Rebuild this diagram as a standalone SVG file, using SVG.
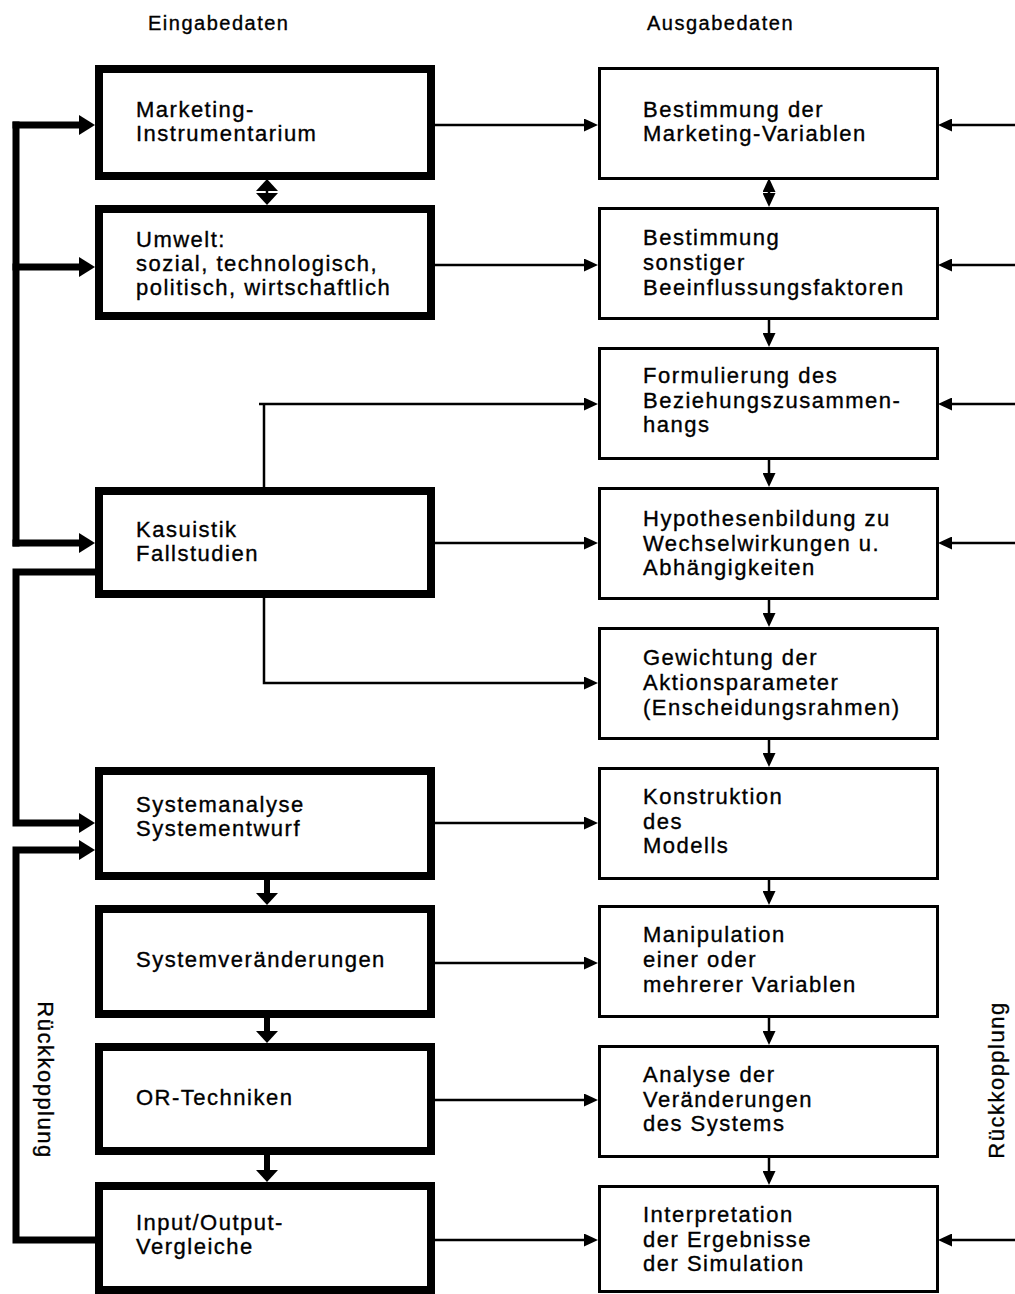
<svg xmlns="http://www.w3.org/2000/svg" width="1015" height="1294" viewBox="0 0 1015 1294">
<style>
  text { font-family: "Liberation Sans", Arial, sans-serif; font-size: 22px; letter-spacing: 1.5px; fill: #000; stroke: #000; stroke-width: 0.35px; }
  .head { font-size: 20px; letter-spacing: 1.5px; }
  .thick { fill: #fff; stroke: #000; stroke-width: 8; }
  .thin { fill: #fff; stroke: #000; stroke-width: 3; }
  .fb { fill: none; stroke: #000; stroke-width: 7; stroke-linejoin: miter; }
  .ln { fill: none; stroke: #000; stroke-width: 2.5; }
  .sh { fill: none; stroke: #000; stroke-width: 6; }
</style>
<defs>
  <marker id="s" viewBox="0 0 14 13" refX="8" refY="6.5" markerWidth="14" markerHeight="13" markerUnits="userSpaceOnUse" orient="auto-start-reverse">
    <path d="M0,0 L14,6.5 L0,13 z" fill="#000"/>
  </marker>
  <marker id="b" viewBox="0 0 16 20" refX="8" refY="10" markerWidth="16" markerHeight="20" markerUnits="userSpaceOnUse" orient="auto-start-reverse">
    <path d="M0,0 L16,10 L0,20 z" fill="#000"/>
  </marker>
  <marker id="d" viewBox="0 0 12 22" refX="5" refY="11" markerWidth="12" markerHeight="22" markerUnits="userSpaceOnUse" orient="auto-start-reverse">
    <path d="M0,0 L12,11 L0,22 z" fill="#000"/>
  </marker>
</defs>
<rect width="1015" height="1294" fill="#fff"/>

<text class="head" x="148" y="30">Eingabedaten</text>
<text class="head" x="647" y="30">Ausgabedaten</text>

<g id="connectors">
  <path class="fb" d="M16,121.5 V546.5"/>
  <path class="fb" d="M12.5,125 H87" marker-end="url(#b)"/>
  <path class="fb" d="M12.5,267 H87" marker-end="url(#b)"/>
  <path class="fb" d="M12.5,543 H87" marker-end="url(#b)"/>
  <path class="fb" d="M95,572 H16 V823 H87" marker-end="url(#b)"/>
  <path class="fb" d="M95,1240 H16 V850 H87" marker-end="url(#b)"/>
  <path class="ln" stroke-width="3" d="M267,186 V198" marker-start="url(#d)" marker-end="url(#d)"/>
  <path class="sh" d="M267,880 V898" marker-end="url(#d)"/>
  <path class="sh" d="M267,1018 V1036" marker-end="url(#d)"/>
  <path class="sh" d="M267,1155 V1175" marker-end="url(#d)"/>
  <path class="ln" d="M435,125 H592" marker-end="url(#s)"/>
  <path class="ln" d="M435,265 H592" marker-end="url(#s)"/>
  <path class="ln" d="M264,487 V404"/>
  <path class="ln" d="M259,404 H592" marker-end="url(#s)"/>
  <path class="ln" d="M435,543 H592" marker-end="url(#s)"/>
  <path class="ln" d="M264,598 V683 H592" marker-end="url(#s)"/>
  <path class="ln" d="M435,823 H592" marker-end="url(#s)"/>
  <path class="ln" d="M435,963 H592" marker-end="url(#s)"/>
  <path class="ln" d="M435,1100 H592" marker-end="url(#s)"/>
  <path class="ln" d="M435,1240 H592" marker-end="url(#s)"/>
  <path class="ln" d="M769,184 V201" marker-start="url(#s)" marker-end="url(#s)"/>
  <path class="ln" d="M769,318 V341" marker-end="url(#s)"/>
  <path class="ln" d="M769,458 V481" marker-end="url(#s)"/>
  <path class="ln" d="M769,598 V621" marker-end="url(#s)"/>
  <path class="ln" d="M769,738 V761" marker-end="url(#s)"/>
  <path class="ln" d="M769,878 V899" marker-end="url(#s)"/>
  <path class="ln" d="M769,1016 V1039" marker-end="url(#s)"/>
  <path class="ln" d="M769,1156 V1179" marker-end="url(#s)"/>
  <path class="ln" d="M1015,125 H944" marker-end="url(#s)"/>
  <path class="ln" d="M1015,265 H944" marker-end="url(#s)"/>
  <path class="ln" d="M1015,404 H944" marker-end="url(#s)"/>
  <path class="ln" d="M1015,543 H944" marker-end="url(#s)"/>
  <path class="ln" d="M1015,1240 H944" marker-end="url(#s)"/>
</g>

<text transform="translate(38,1080) rotate(90)" text-anchor="middle">Rückkopplung</text>
<text transform="translate(1004,1080) rotate(-90)" text-anchor="middle">Rückkopplung</text>

<g id="n-marketing">
  <rect class="thick" x="99" y="69" width="332" height="107"/>
  <text x="136" y="117">Marketing-</text>
  <text x="136" y="141">Instrumentarium</text>
</g>
<g id="n-umwelt">
  <rect class="thick" x="99" y="209" width="332" height="107"/>
  <text x="136" y="247">Umwelt:</text>
  <text x="136" y="271">sozial, technologisch,</text>
  <text x="136" y="295">politisch, wirtschaftlich</text>
</g>
<g id="n-kasuistik">
  <rect class="thick" x="99" y="491" width="332" height="103"/>
  <text x="136" y="537">Kasuistik</text>
  <text x="136" y="561">Fallstudien</text>
</g>
<g id="n-systemanalyse">
  <rect class="thick" x="99" y="771" width="332" height="105"/>
  <text x="136" y="812">Systemanalyse</text>
  <text x="136" y="836">Systementwurf</text>
</g>
<g id="n-systemveraenderungen">
  <rect class="thick" x="99" y="909" width="332" height="105"/>
  <text x="136" y="967">Systemveränderungen</text>
</g>
<g id="n-or">
  <rect class="thick" x="99" y="1047" width="332" height="104"/>
  <text x="136" y="1105">OR-Techniken</text>
</g>
<g id="n-io">
  <rect class="thick" x="99" y="1186" width="332" height="104"/>
  <text x="136" y="1230">Input/Output-</text>
  <text x="136" y="1254">Vergleiche</text>
</g>

<g id="n-bestimmung-mv">
  <rect class="thin" x="599.5" y="68.5" width="338" height="110"/>
  <text x="643" y="117">Bestimmung der</text>
  <text x="643" y="141">Marketing-Variablen</text>
</g>
<g id="n-bestimmung-sb">
  <rect class="thin" x="599.5" y="208.5" width="338" height="110"/>
  <text x="643" y="245">Bestimmung</text>
  <text x="643" y="270">sonstiger</text>
  <text x="643" y="295">Beeinflussungsfaktoren</text>
</g>
<g id="n-formulierung">
  <rect class="thin" x="599.5" y="348.5" width="338" height="110"/>
  <text x="643" y="383">Formulierung des</text>
  <text x="643" y="408">Beziehungszusammen-</text>
  <text x="643" y="432">hangs</text>
</g>
<g id="n-hypothesen">
  <rect class="thin" x="599.5" y="488.5" width="338" height="110"/>
  <text x="643" y="526">Hypothesenbildung zu</text>
  <text x="643" y="551">Wechselwirkungen u.</text>
  <text x="643" y="575">Abhängigkeiten</text>
</g>
<g id="n-gewichtung">
  <rect class="thin" x="599.5" y="628.5" width="338" height="110"/>
  <text x="643" y="665">Gewichtung der</text>
  <text x="643" y="690">Aktionsparameter</text>
  <text x="643" y="715">(Enscheidungsrahmen)</text>
</g>
<g id="n-konstruktion">
  <rect class="thin" x="599.5" y="768.5" width="338" height="110"/>
  <text x="643" y="804">Konstruktion</text>
  <text x="643" y="829">des</text>
  <text x="643" y="853">Modells</text>
</g>
<g id="n-manipulation">
  <rect class="thin" x="599.5" y="906.5" width="338" height="110"/>
  <text x="643" y="942">Manipulation</text>
  <text x="643" y="967">einer oder</text>
  <text x="643" y="992">mehrerer Variablen</text>
</g>
<g id="n-analyse">
  <rect class="thin" x="599.5" y="1046.5" width="338" height="110"/>
  <text x="643" y="1082">Analyse der</text>
  <text x="643" y="1107">Veränderungen</text>
  <text x="643" y="1131">des Systems</text>
</g>
<g id="n-interpretation">
  <rect class="thin" x="599.5" y="1186.5" width="338" height="105"/>
  <text x="643" y="1222">Interpretation</text>
  <text x="643" y="1247">der Ergebnisse</text>
  <text x="643" y="1271">der Simulation</text>
</g>
</svg>
